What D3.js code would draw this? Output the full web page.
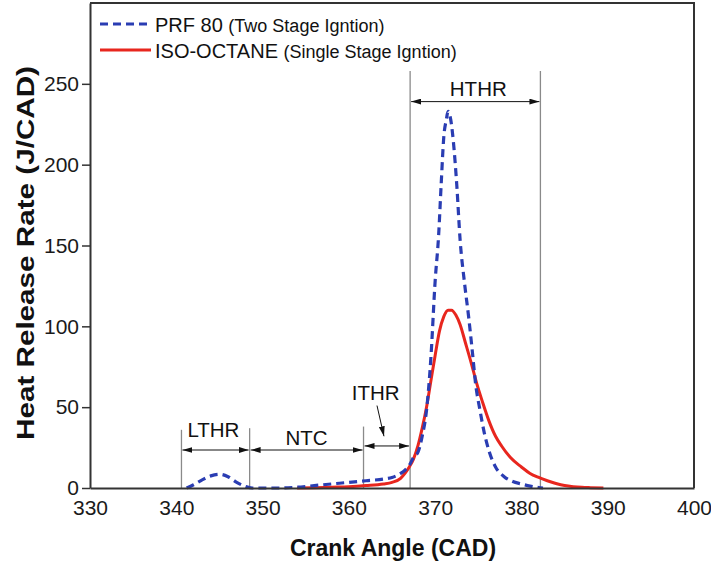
<!DOCTYPE html>
<html>
<head>
<meta charset="utf-8">
<script src="https://cdn.jsdelivr.net/npm/d3@7"></script>
<style>
  body { margin: 0; background: #fff; }
  svg { display: block; font-family: "Liberation Sans", Arial, sans-serif; }
</style>
</head>
<body>
<div id="chart"><svg></svg></div>
<script>
// PRF 80 (two stage ignition) - dashed blue
const prfCad = [341.2, 342, 343, 344, 345, 346, 347, 348, 348.8, 350, 352, 354, 356, 358, 360, 362, 364, 365, 366, 366.5, 367, 367.5, 368, 368.5, 369, 369.5, 370, 370.4, 370.7, 371, 371.3, 371.5, 371.8, 372.1, 372.5, 372.9, 373.4, 373.9, 374.3, 374.7, 375.2, 375.7, 376.3, 377, 378, 379, 380, 381, 382, 382.5];
const prfHrr = [0, 2, 5, 7.5, 8.5, 7, 3.5, 1, 0, 0, 0, 0.5, 1.5, 2.5, 3.5, 4.5, 5.5, 6.5, 9, 11, 14, 19, 22, 32, 48, 80, 128, 156, 188, 217, 228, 233, 228, 215, 188, 153, 127, 105, 85, 64, 48, 34, 22, 13, 7, 4, 2.5, 1.2, 0.3, 0];

// ISO-OCTANE (single stage ignition) - solid red
const isoCad = [354, 356, 358, 360, 362, 364, 365, 366, 366.5, 367, 367.5, 368, 368.5, 369, 369.5, 370, 370.5, 371, 371.5, 371.9, 372.4, 372.9, 373.5, 374.2, 374.8, 375.5, 376.2, 377, 377.7, 378.7, 380, 381, 382, 383, 384, 385, 386, 387, 388, 389.5];
const isoHrr = [0, 0.2, 0.5, 0.8, 1.5, 2.5, 3.5, 6, 9, 13, 18, 26, 37, 50, 66, 82, 97, 106, 110, 110, 107, 101, 90, 77, 65, 53, 42, 32, 26, 19, 13, 9, 6.5, 4.5, 2.8, 1.5, 0.8, 0.4, 0.2, 0];

const xTicks = [330, 340, 350, 360, 370, 380, 390, 400];
const yTicks = [0, 50, 100, 150, 200, 250];

// combustion phase boundaries (CAD) and labels
const phaseBounds = [340.6, 348.5, 361.7, 367.1, 382.2];
const phaseNames = ["LTHR", "NTC", "ITHR", "HTHR"];

const W = 711, H = 564;
const margin = { top: 3, right: 17, bottom: 76, left: 90 };

const svg = d3.select("#chart svg").attr("width", W).attr("height", H);

const x = d3.scaleLinear().domain([330, 400]).range([margin.left, W - margin.right]);
const y = d3.scaleLinear().domain([0, 300]).range([H - margin.bottom, margin.top]);

// arrow heads
const defs = svg.append("defs");
defs.append("marker")
  .attr("id", "head")
  .attr("viewBox", "0 0 10 6")
  .attr("refX", 10).attr("refY", 3)
  .attr("markerWidth", 10).attr("markerHeight", 6)
  .attr("markerUnits", "userSpaceOnUse")
  .attr("orient", "auto-start-reverse")
  .append("path").attr("d", "M0,0 L10,3 L0,6 Z").attr("fill", "#111");

// phase boundary lines
const lineTops = [36, 37, 38, 258, 258];
svg.append("g").selectAll("line")
  .data(phaseBounds)
  .join("line")
  .attr("x1", d => x(d)).attr("x2", d => x(d))
  .attr("y1", (d, i) => y(lineTops[i]))
  .attr("y2", y(0))
  .attr("stroke", "#8a8a8a")
  .attr("stroke-width", 1.3);

// double headed arrows for each phase
const arrowY = [23.5, 23.5, 26, 239];
const labelPos = [[344.3, 31.5], [355.1, 26.6], [363.1, 54.4], [375, 242.4]];
const ann = svg.append("g");
phaseNames.forEach((name, i) => {
  ann.append("line")
    .attr("x1", x(phaseBounds[i]) + 1).attr("x2", x(phaseBounds[i + 1]) - 1)
    .attr("y1", y(arrowY[i])).attr("y2", y(arrowY[i]))
    .attr("stroke", "#111").attr("stroke-width", 1)
    .attr("marker-start", "url(#head)")
    .attr("marker-end", "url(#head)");
  ann.append("text")
    .attr("x", x(labelPos[i][0])).attr("y", y(labelPos[i][1]))
    .attr("text-anchor", "middle")
    .attr("font-size", 20.5)
    .attr("fill", "#111")
    .text(name);
});
// ITHR pointer
ann.append("line")
  .attr("x1", x(363.26)).attr("y1", y(51))
  .attr("x2", x(364.07)).attr("y2", y(32))
  .attr("stroke", "#111").attr("stroke-width", 1)
  .attr("marker-end", "url(#head)");

// curves
const line = d3.line().x(d => x(d[0])).y(d => y(d[1])).curve(d3.curveMonotoneX);

svg.append("path")
  .datum(isoCad.map((c, i) => [c, isoHrr[i]]))
  .attr("d", line)
  .attr("fill", "none")
  .attr("stroke", "#e8261e")
  .attr("stroke-width", 3);

svg.append("path")
  .datum(prfCad.map((c, i) => [c, prfHrr[i]]))
  .attr("d", line)
  .attr("fill", "none")
  .attr("stroke", "#2a3db3")
  .attr("stroke-width", 3.2)
  .attr("stroke-dasharray", "8,5");

// axes
const xAxis = svg.append("g")
  .attr("transform", `translate(0,${y(0)})`)
  .call(d3.axisBottom(x).tickValues(xTicks).tickSize(0).tickPadding(12));
const yAxis = svg.append("g")
  .attr("transform", `translate(${x(330)},0)`)
  .call(d3.axisLeft(y).tickValues(yTicks).tickSize(8).tickPadding(3).tickSizeOuter(0));
[xAxis, yAxis].forEach(a => {
  a.select(".domain").attr("stroke", "#333").attr("stroke-width", 2);
  a.selectAll(".tick line").attr("stroke", "#333").attr("stroke-width", 1.5);
  a.selectAll(".tick text").attr("font-size", 21).attr("fill", "#1a1a1a")
    .attr("font-family", "Liberation Sans, Arial, sans-serif");
});

// frame top and right
svg.append("path")
  .attr("d", `M${x(330)},${y(300)} H${x(400)} V${y(0)}`)
  .attr("fill", "none").attr("stroke", "#333").attr("stroke-width", 2);

// axis titles
svg.append("text")
  .attr("x", 393).attr("y", 556)
  .attr("text-anchor", "middle")
  .attr("font-size", 23).attr("font-weight", "bold").attr("fill", "#111")
  .text("Crank Angle (CAD)");
svg.append("text")
  .attr("transform", "translate(34,253) rotate(-90)")
  .attr("text-anchor", "middle")
  .attr("font-size", 24).attr("font-weight", "bold").attr("fill", "#111")
  .attr("textLength", 374).attr("lengthAdjust", "spacingAndGlyphs")
  .text("Heat Release Rate (J/CAD)");

// legend
const legend = svg.append("g");
const legendItems = [
  { main: "PRF 80", sub: "(Two Stage Igntion)", color: "#2a3db3", dash: "8,5", ly: 24 },
  { main: "ISO-OCTANE", sub: "(Single Stage Igntion)", color: "#e8261e", dash: null, ly: 50 }
];
legendItems.forEach(it => {
  legend.append("line")
    .attr("x1", 100).attr("x2", 151)
    .attr("y1", it.ly).attr("y2", it.ly)
    .attr("stroke", it.color).attr("stroke-width", 3)
    .attr("stroke-dasharray", it.dash);
  const t = legend.append("text")
    .attr("x", 155).attr("y", it.ly + 7.5)
    .attr("fill", "#111");
  t.append("tspan").attr("font-size", 20).text(it.main + " ");
  t.append("tspan").attr("font-size", 18).text(it.sub);
});
</script>
</body>
</html>
